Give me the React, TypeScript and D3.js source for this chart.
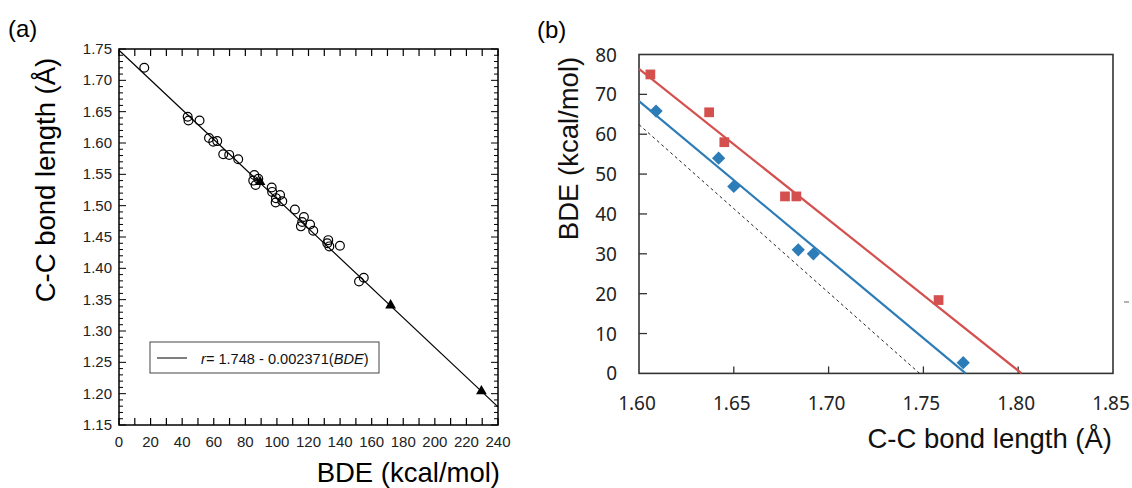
import React from 'react';
import * as d3 from 'd3';

// panel (a): BDE (kcal/mol) vs C-C bond length (Å)
const circleBDE = [16, 43.5, 44, 51, 57, 59.7, 62.2, 66, 69.8, 75.5, 85.7, 85.0, 86.5, 88.2, 96.7, 97.0, 99.4, 99.2, 102, 103.4, 111.4, 117.1, 115.2, 116, 121, 123, 132.5, 131.9, 133.2, 139.9, 152, 155];
const circleR = [1.720, 1.642, 1.636, 1.636, 1.608, 1.602, 1.603, 1.582, 1.581, 1.574, 1.549, 1.540, 1.533, 1.543, 1.529, 1.522, 1.512, 1.505, 1.517, 1.507, 1.494, 1.482, 1.467, 1.474, 1.470, 1.460, 1.445, 1.440, 1.435, 1.436, 1.379, 1.385];
const triBDE = [89.3, 172, 229.5];
const triR = [1.538, 1.341, 1.204];
const fitA = { a: 1.748, b: 0.002371 };
const xTicksA = [0, 20, 40, 60, 80, 100, 120, 140, 160, 180, 200, 220, 240];
const yTicksA = ['1.15', '1.20', '1.25', '1.30', '1.35', '1.40', '1.45', '1.50', '1.55', '1.60', '1.65', '1.70', '1.75'];

// panel (b): C-C bond length (Å) vs BDE (kcal/mol)
const redLen = [1.606, 1.637, 1.645, 1.677, 1.683, 1.758];
const redBDE = [75.0, 65.5, 58.0, 44.4, 44.4, 18.4];
const blueLen = [1.609, 1.642, 1.650, 1.684, 1.692, 1.771];
const blueBDE = [65.8, 54.0, 46.9, 31.0, 30.0, 2.7];
const redFit = { len: [1.60, 1.8018], bde: [76.4, 0] };
const blueFit = { len: [1.60, 1.7723], bde: [68.3, 0] };
const xTicksB = ['1.60', '1.65', '1.70', '1.75', '1.80', '1.85'];
const yTicksB = [0, 10, 20, 30, 40, 50, 60, 70, 80];

const RED = '#d4504f';
const BLUE = '#2c7cb8';
const ARIAL = '"Liberation Sans", Arial, sans-serif';
const NOTO = '"Noto Sans", sans-serif';

const PanelA = () => {
  const x = d3.scaleLinear().domain([0, 240]).range([119, 498]);
  const y = d3.scaleLinear().domain([1.15, 1.75]).range([425, 49]);
  const minorX = d3.range(0, 241, 10);
  const minorY = d3.range(0, 61).map((i) => 1.15 + i * 0.01);
  const line = d3.line<number>().x((b) => x(b)).y((b) => y(fitA.a - fitA.b * b));
  const tri = d3.symbol().type(d3.symbolTriangle).size(50);

  return (
    <g fontFamily={ARIAL}>
      <text x={8} y={37} fontSize={24}>(a)</text>
      {minorX.map((v) => (
        <g key={'xt' + v} stroke="#000" strokeWidth={1.2}>
          <line x1={x(v)} x2={x(v)} y1={y.range()[0]} y2={y.range()[0] - 7} />
          <line x1={x(v)} x2={x(v)} y1={y.range()[1]} y2={y.range()[1] + 7} />
        </g>
      ))}
      {minorY.map((v, i) => {
        const len = i % 5 === 0 ? 7 : 4;
        return (
          <g key={'yt' + i} stroke="#000" strokeWidth={1}>
            <line x1={119} x2={119 + len} y1={y(v)} y2={y(v)} />
            <line x1={498} x2={498 - len} y1={y(v)} y2={y(v)} />
          </g>
        );
      })}
      <rect x={119} y={49} width={379} height={376} fill="none" stroke="#000" strokeWidth={1.5} />
      <path d={line([0, 240]) ?? ''} stroke="#000" strokeWidth={1.2} fill="none" />
      {circleBDE.map((b, i) => (
        <circle key={'c' + i} cx={x(b)} cy={y(circleR[i])} r={4.4} fill="none" stroke="#000" strokeWidth={1.2} />
      ))}
      {triBDE.map((b, i) => (
        <path key={'t' + i} d={tri() ?? ''} transform={`translate(${x(b)},${y(triR[i])})`} fill="#000" />
      ))}
      {xTicksA.map((v) => (
        <text key={'xl' + v} x={x(v)} y={447} fontSize={15} textAnchor="middle" fill="#222">{v}</text>
      ))}
      {yTicksA.map((v) => (
        <text key={'yl' + v} x={112} y={y(+v) + 5} fontSize={15} textAnchor="end" fill="#222">{v}</text>
      ))}
      <g>
        <rect x={150} y={342} width={229} height={31} fill="#fff" stroke="#444" strokeWidth={1} />
        <line x1={157} x2={187} y1={358} y2={358} stroke="#000" strokeWidth={1} />
        <text x={201} y={363.5} fontSize={14.6} fill="#111">
          <tspan fontStyle="italic">r</tspan>= 1.748 - 0.002371(<tspan fontStyle="italic">BDE</tspan>)
        </text>
      </g>
      <text transform="translate(55,180) rotate(-90)" fontSize={27.5} textAnchor="middle">C-C bond length (Å)</text>
      <text x={500} y={482} fontSize={27.5} textAnchor="end">BDE (kcal/mol)</text>
    </g>
  );
};

const PanelB = () => {
  const x = d3.scaleLinear().domain([1.60, 1.85]).range([639, 1113]);
  const y = d3.scaleLinear().domain([0, 80]).range([373.4, 54.5]);
  const line = d3.line<[number, number]>().x((d) => x(d[0])).y((d) => y(d[1]));
  const sq = d3.symbol().type(d3.symbolSquare);
  const dashed: [number, number][] = [1.60, fitA.a].map((r) => [r, (fitA.a - r) / fitA.b]);
  const [x0, x1] = x.range();
  const [y0, y1] = y.range();

  return (
    <g>
      <text x={537} y={38} fontSize={24} fontFamily={ARIAL}>(b)</text>
      <rect x={x0} y={y1} width={x1 - x0} height={y0 - y1} fill="none" stroke="#333" strokeWidth={1.6} />
      {yTicksB.slice(1, -1).map((v) => (
        <line key={'yt' + v} x1={x0} x2={x0 + 8} y1={y(v)} y2={y(v)} stroke="#333" strokeWidth={1.3} />
      ))}
      {xTicksB.slice(1, -1).map((v) => (
        <line key={'xt' + v} x1={x(+v)} x2={x(+v)} y1={y0} y2={y0 - 7} stroke="#333" strokeWidth={1.3} />
      ))}
      <path d={line(dashed) ?? ''} stroke="#222" strokeWidth={1} strokeDasharray="3,3" fill="none" />
      <path d={line(redFit.len.map((l, i) => [l, redFit.bde[i]] as [number, number])) ?? ''} stroke={RED} strokeWidth={2.2} fill="none" />
      <path d={line(blueFit.len.map((l, i) => [l, blueFit.bde[i]] as [number, number])) ?? ''} stroke={BLUE} strokeWidth={2.2} fill="none" />
      {redLen.map((l, i) => (
        <path key={'r' + i} d={sq.size(95)() ?? ''} transform={`translate(${x(l)},${y(redBDE[i])})`} fill={RED} />
      ))}
      {blueLen.map((l, i) => (
        <path key={'b' + i} d={sq.size(88)() ?? ''} transform={`translate(${x(l)},${y(blueBDE[i])}) rotate(45)`} fill={BLUE} />
      ))}
      <g fontFamily={NOTO} fontSize={19} fill="#222">
        {yTicksB.map((v) => (
          <text key={'yl' + v} x={617} y={y(v) + 7} textAnchor="end">{v}</text>
        ))}
        {xTicksB.map((v) => (
          <text key={'xl' + v} x={x(+v) - 2} y={410} textAnchor="middle">{v}</text>
        ))}
      </g>
      <line x1={1124} x2={1129} y1={302} y2={302} stroke="#666" strokeWidth={1} />
      <g fontFamily={ARIAL} fontSize={27.5} fill="#111">
        <text transform="translate(578,148.5) rotate(-90)" textAnchor="middle">BDE (kcal/mol)</text>
        <text x={1112} y={448} textAnchor="end">C-C bond length (Å)</text>
      </g>
    </g>
  );
};

export default function App() {
  return (
    <svg width={1132} height={488} style={{ position: 'absolute', left: 0, top: 0, background: '#fff' }}>
      <rect width={1132} height={488} fill="#fff" />
      <PanelA />
      <PanelB />
    </svg>
  );
}
